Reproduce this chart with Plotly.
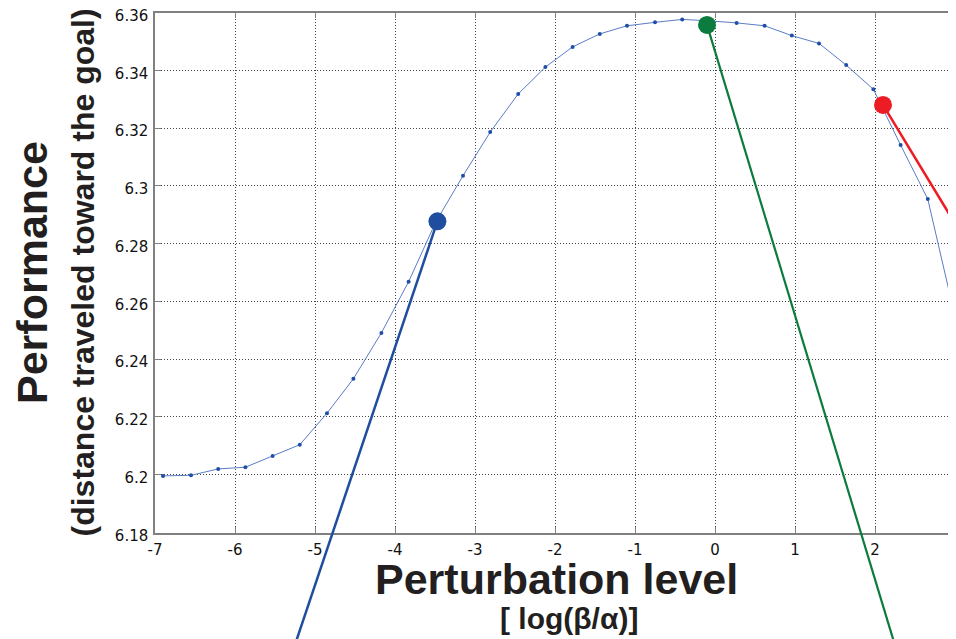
import plotly.graph_objects as go

# ---- data ----
perturbation = [-6.90, -6.55, -6.21, -5.87, -5.53, -5.19, -4.85, -4.52, -4.17, -3.83,
                -3.49, -3.15, -2.81, -2.46, -2.12, -1.78, -1.44, -1.10, -0.75, -0.41,
                -0.07, 0.27, 0.62, 0.96, 1.30, 1.64, 1.98, 2.32, 2.66, 3.00]
performance = [6.1996, 6.1998, 6.2020, 6.2026, 6.2065, 6.2104, 6.2213, 6.2332, 6.2491, 6.2668,
               6.2875, 6.3035, 6.3186, 6.3318, 6.3411, 6.3481, 6.3526, 6.3554, 6.3566, 6.3576,
               6.3571, 6.3564, 6.3554, 6.3520, 6.3493, 6.3418, 6.3334, 6.3141, 6.2954, 6.2547]

x_ticks = [-7, -6, -5, -4, -3, -2, -1, 0, 1, 2, 3]
x_tick_labels = ["-7", "-6", "-5", "-4", "-3", "-2", "-1", "0", "1", "2", "3"]
y_ticks = [6.18, 6.20, 6.22, 6.24, 6.26, 6.28, 6.30, 6.32, 6.34, 6.36]
y_tick_labels = ["6.18", "6.2", "6.22", "6.24", "6.26", "6.28", "6.3", "6.32", "6.34", "6.36"]

# highlighted points and the leader lines leaving them (data units)
highlight_names = ["low", "optimal", "high"]
highlight_x = [-3.47, -0.10, 2.10]
highlight_y = [6.2877, 6.3557, 6.3280]
leader_end_x = [-5.314, 2.305, 3.81]
leader_end_y = [6.1359, 6.1359, 6.2500]
highlight_colors = ["#1f4e9e", "#0b7b3e", "#ed1c24"]
leader_widths = [2.5, 2.2, 2.5]

# ---- geometry (page pixels; the page body has an 8px margin) ----
PAGE_W, PAGE_H, OFF = 956, 639, 8
W, H = PAGE_W - OFF, PAGE_H - OFF
left_px, right_px, top_px, bottom_px = 155 - OFF, 955 - OFF, 12.5 - OFF, 532.5 - OFF
x_range = [-7, 3]
y_range = [6.18, 6.36]
x_dom = [left_px / W, right_px / W]
y_dom = [(H - bottom_px) / H, (H - top_px) / H]

# full-figure overlay axes sharing the same data scale (for lines that leave the plot box)
ux = (x_range[1] - x_range[0]) / (right_px - left_px)
uy = (y_range[1] - y_range[0]) / (bottom_px - top_px)
x2_range = [x_range[0] - left_px * ux, x_range[1] + (W - right_px) * ux]
y2_range = [y_range[0] - (H - bottom_px) * uy, y_range[1] + top_px * uy]


def px_x(p):
    return (p - OFF) / W


def px_y(p):
    return (H - (p - OFF)) / H


fig = go.Figure()

fig.add_trace(go.Scatter(
    x=perturbation, y=performance, mode="lines+markers",
    line=dict(color="#5a7cc6", width=1),
    marker=dict(color="#1f4ea8", size=4),
    xaxis="x", yaxis="y", showlegend=False, hoverinfo="x+y"))

for i in range(len(highlight_x)):
    fig.add_trace(go.Scatter(
        x=[highlight_x[i], leader_end_x[i]], y=[highlight_y[i], leader_end_y[i]],
        mode="lines", line=dict(color=highlight_colors[i], width=leader_widths[i]),
        xaxis="x2", yaxis="y2", showlegend=False, hoverinfo="skip",
        name=highlight_names[i]))

for i in range(len(highlight_x)):
    fig.add_trace(go.Scatter(
        x=[highlight_x[i]], y=[highlight_y[i]], mode="markers",
        marker=dict(color=highlight_colors[i], size=18),
        xaxis="x2", yaxis="y2", showlegend=False, name=highlight_names[i]))

axis_common = dict(
    showline=True, linecolor="#808080", linewidth=1.5, mirror="ticks",
    ticks="inside", ticklen=6, tickcolor="#808080", tickwidth=1.2,
    showgrid=True, gridcolor="#444444", gridwidth=1, griddash="1px,2px",
    zeroline=False, automargin=False, ticklabeloverflow="allow",
    tickfont=dict(family="DejaVu Sans", size=15, color="#111111"),
)

fig.update_layout(
    template="none",
    width=W, height=H,
    margin=dict(l=0, r=0, t=0, b=0, autoexpand=False),
    paper_bgcolor="white", plot_bgcolor="rgba(0,0,0,0)",
    xaxis=dict(domain=x_dom, range=x_range, tickvals=x_ticks, ticktext=x_tick_labels,
               anchor="y", ticklabelstandoff=3, **axis_common),
    yaxis=dict(domain=y_dom, range=y_range, tickvals=y_ticks, ticktext=y_tick_labels,
               anchor="x", ticklabelstandoff=2, ticklabelshift=3, **axis_common),
    xaxis2=dict(domain=[0, 1], range=x2_range, anchor="y2", visible=False, fixedrange=True),
    yaxis2=dict(domain=[0, 1], range=y2_range, anchor="x2", visible=False, fixedrange=True),
)

title_font = "Liberation Sans, Arial, sans-serif"
dark = "#231f20"
annotations = [
    dict(text="<b>Performance</b>", x=px_x(31.5), y=px_y(272.5), textangle=-90,
         font=dict(family=title_font, size=43, color=dark)),
    dict(text="<b>(distance traveled toward the goal)</b>", x=px_x(82), y=px_y(272.5),
         textangle=-90, font=dict(family=title_font, size=32, color=dark)),
    dict(text="<b>Perturbation level</b>", x=px_x(556), y=px_y(579),
         font=dict(family=title_font, size=43, color=dark)),
    dict(text="<b>[ log(β/α)]</b>", x=px_x(569), y=px_y(618),
         font=dict(family=title_font, size=30, color=dark)),
]
for a in annotations:
    fig.add_annotation(xref="paper", yref="paper", xanchor="center", yanchor="middle",
                       showarrow=False, **a)

fig.write_html("out.html")
